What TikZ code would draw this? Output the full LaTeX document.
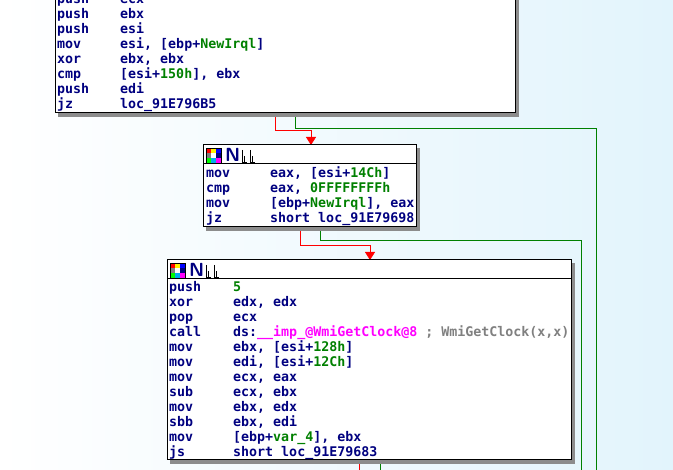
\documentclass[tikz,border=0pt]{standalone}
\usepackage{fontspec}
\setmonofont{DejaVu Sans Mono}
\usetikzlibrary{positioning,arrows.meta}
\definecolor{asmblue}{RGB}{0,0,128}
\definecolor{asmgreen}{RGB}{0,128,0}
\definecolor{asmpink}{RGB}{255,0,255}
\definecolor{asmgray}{RGB}{128,128,128}
\definecolor{bgblue}{RGB}{226,244,252}
\definecolor{jmpred}{RGB}{255,0,0}
\definecolor{jmpgreen}{RGB}{0,128,0}
\tikzset{%
  block/.style = {
    draw = black,
    fill = white,
    line width = 1pt,
  },
  boxshadow/.style = {
    fill = black!45,
  },
  code/.style = {
    anchor = base west,
    inner sep = 0pt,
    font = \ttfamily\bfseries\fontsize{13.3}{15}\selectfont,
    text = asmblue,
  },
  edge/.style = {
    line width = 0.8pt,
    draw = #1,
  },
  taken/.style = {
    edge = jmpred,
    -{Triangle[length=8pt,width=10pt]},
  },
}
\newcommand{\G}[1]{\textcolor{asmgreen}{#1}}
\newcommand{\hdr}[2]{%
  \foreach \c [count=\i from 0] in {red,yellow,blue,gray,white,asmblue,green,cyan,asmpink}{
    \pgfmathsetmacro\cx{#1+3+mod(\i,3)*5}
    \pgfmathsetmacro\cy{#2+3+floor(\i/3)*5}
    \fill[\c] (\cx,\cy) rectangle ++(5,5);
  }
  \draw[black,line width=0.6pt] (#1+3,#2+3) rectangle ++(15,15);
  \node[code,font=\sffamily\bfseries\fontsize{19}{19}\selectfont] at (#1+22,#2+17) {N};
  \draw[black,line width=0.9pt] (#1+39,#2+5) -- ++(0,12) -- ++(5,0) (#1+47,#2+5) -- ++(0,12) -- ++(5,0)
    (#1+41,#2+11) -- ++(0,6) (#1+49,#2+11) -- ++(0,6) (#1+38,#2+18) -- ++(16,0);
}
\begin{document}
\begin{tikzpicture}[x=1pt,y=-1pt]
  \useasboundingbox (0,0) rectangle (673,470);
  \shade[left color=white,right color=bgblue] (0,0) rectangle (673,470);

  % edges out of the first block
  \coordinate (b1r) at (275,113);
  \coordinate (b1g) at (295,113);
  \draw[taken] (b1r) |- (311,130) -- (311,145);
  \draw[edge=jmpgreen] (b1g) |- (596,128) -- (596,470);

  % edges out of the second block
  \draw[taken] (300,227) |- (370,245) -- (370,260);
  \draw[edge=jmpgreen] (320,227) |- (581,240) -- (581,470);

  % edges out of the third block
  \draw[edge=jmpred] (359,460) -- (359,470);
  \draw[edge=jmpgreen] (380,460) -- (380,470);

  % first block
  \fill[boxshadow] (58,-5) rectangle (519,117);
  \draw[block] (55,-5) rectangle (515,113);
  \foreach \m/\o [count=\k from 0] in {push/ecx,push/ebx,push/esi,
      mov/{esi, [ebp+\G{NewIrql}]},xor/{ebx, ebx},cmp/{[esi+\G{150h}], ebx},
      push/edi,jz/loc\_91E796B5}{
    \node[code] at (57,4+\k*15) {\m};
    \node[code] at (120,4+\k*15) {\o};
  }

  % second block
  \fill[boxshadow] (206,148) rectangle (420,231);
  \draw[block] (203,145) rectangle (416,227);
  \draw[black,line width=0.8pt] (203,163) -- (416,163);
  \hdr{203}{145}
  \foreach \m/\o [count=\k from 0] in {mov/{eax, [esi+\G{14Ch}]},cmp/{eax, \G{0FFFFFFFFh}},
      mov/{[ebp+\G{NewIrql}], eax},jz/{short loc\_91E79698}}{
    \node[code] at (206,178+\k*15) {\m};
    \node[code] at (270,178+\k*15) {\o};
  }

  % third block
  \fill[boxshadow] (170,263) rectangle (575,464);
  \draw[block] (167,260) rectangle (571,460);
  \draw[black,line width=0.8pt] (167,278) -- (571,278);
  \hdr{167}{260}
  \foreach \m/\o [count=\k from 0] in {push/\G{5},xor/{edx, edx},pop/ecx,
      call/{ds:\textcolor{asmpink}{\_\_imp\_@WmiGetClock@8} \textcolor{asmgray}{; WmiGetClock(x,x)}},
      mov/{ebx, [esi+\G{128h}]},mov/{edi, [esi+\G{12Ch}]},mov/{ecx, eax},sub/{ecx, ebx},
      mov/{ebx, edx},sbb/{ebx, edi},mov/{[ebp+\G{var\_4}], ebx},js/{short loc\_91E79683}}{
    \node[code] at (169,292+\k*15) {\m};
    \node[code] at (233,292+\k*15) {\o};
  }
\end{tikzpicture}
\end{document}
